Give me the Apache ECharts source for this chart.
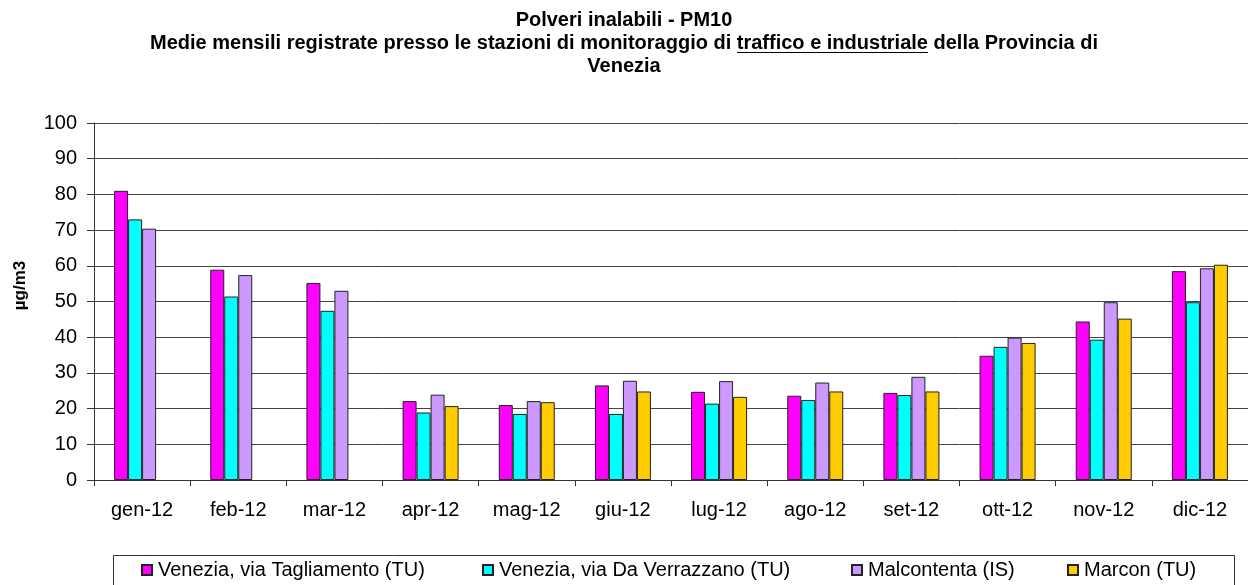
<!DOCTYPE html>
<html>
<head>
<meta charset="utf-8">
<script src="https://cdn.jsdelivr.net/npm/echarts@6/dist/echarts.min.js"></script>
<style>
html,body{margin:0;padding:0;background:#fff;}
#chart{width:1248px;height:585px;}
</style>
</head>
<body>
<div id="chart"></div>
<script>
var categories = ['gen-12','feb-12','mar-12','apr-12','mag-12','giu-12','lug-12','ago-12','set-12','ott-12','nov-12','dic-12'];
var seriesNames = ['Venezia, via Tagliamento (TU)','Venezia, via Da Verrazzano (TU)','Malcontenta (IS)','Marcon (TU)'];
var tagliamento = [81.0, 58.9, 55.2, 22.1, 21.0, 26.5, 24.7, 23.6, 24.4, 34.8, 44.4, 58.5];
var verrazzano  = [73.0, 51.4, 47.4, 18.9, 18.5, 18.5, 21.4, 22.4, 23.8, 37.3, 39.3, 49.8];
var malcontenta = [70.4, 57.4, 53.0, 23.9, 22.1, 27.8, 27.7, 27.3, 28.9, 39.9, 49.8, 59.3];
var marcon      = [null, null, null, 20.7, 21.8, 24.8, 23.3, 24.8, 24.8, 38.4, 45.2, 60.3];
var yTicks = [0,10,20,30,40,50,60,70,80,90,100];

var FONT = "'Liberation Sans', Arial, sans-serif";
var colors = ['#FF00FF','#00FFFF','#CC99FF','#FFCC00'];

// underline image for title rich text
var ul = document.createElement('canvas');
ul.width = 4; ul.height = 23;
var c2 = ul.getContext('2d');
c2.fillStyle = '#000';
c2.fillRect(0, 20, 4, 1);

var chart = echarts.init(document.getElementById('chart'), null, {renderer:'canvas'});

function bar(name, data, color){
  return {
    name: name, type: 'bar', data: data,
    barWidth: 14, barGap: '0%',
    itemStyle: {color: color, borderColor: '#222', borderWidth: 1},
    emphasis: {disabled: true}
  };
}
function leg(name, left){
  return {
    data: [name], left: left, top: 560, padding: 0,
    itemWidth: 10, itemHeight: 10, itemGap: 0,
    icon: 'rect',
    textStyle: {fontFamily: FONT, fontSize: 20, color: '#000', padding: [0,0,0,1]},
    selectedMode: false
  };
}

chart.setOption({
  backgroundColor: '#fff',
  animation: false,
  title: {
    left: 'center', top: 9, padding: [0,0,0,76],
    text: '{b|Polveri inalabili - PM10}\n{b|Medie mensili registrate presso le stazioni di monitoraggio di }{u|traffico e industriale}{b| della Provincia di}\n{b|Venezia}',
    textStyle: {
      fontFamily: FONT, fontSize: 20, fontWeight: 'bold', lineHeight: 23, align: 'center',
      rich: {
        b: {fontFamily: FONT, fontSize: 20, fontWeight: 'bold', color: '#000', lineHeight: 23},
        u: {fontFamily: FONT, fontSize: 20, fontWeight: 'bold', color: '#000', lineHeight: 23, height: 23,
            backgroundColor: {image: ul}}
      }
    }
  },
  legend: [
    leg(seriesNames[0], 141),
    leg(seriesNames[1], 482),
    leg(seriesNames[2], 851),
    leg(seriesNames[3], 1067)
  ],
  graphic: [{
    type: 'rect', silent: true, z: -1,
    shape: {x: 113.5, y: 555.5, width: 1121, height: 40},
    style: {fill: 'none', stroke: '#333', lineWidth: 1}
  }],
  grid: {left: 94, top: 123, width: 1161, height: 357, containLabel: false},
  xAxis: {
    type: 'category', data: categories, boundaryGap: true,
    axisLine: {show: true, lineStyle: {color: '#333', width: 1}},
    axisTick: {show: true, length: 6, lineStyle: {color: '#333'}},
    axisLabel: {fontFamily: FONT, fontSize: 20, color: '#000', margin: 20},
    splitLine: {show: false}
  },
  yAxis: {
    type: 'value', min: yTicks[0], max: yTicks[yTicks.length-1], interval: 10,
    name: 'µg/m3', nameLocation: 'middle', nameGap: 65,
    nameTextStyle: {fontFamily: FONT, fontSize: 17, fontWeight: 'bold', color: '#000', padding: [0,0,0,32]},
    axisLine: {show: true, lineStyle: {color: '#333', width: 1}},
    axisTick: {show: true, length: 7, lineStyle: {color: '#333'}},
    axisLabel: {fontFamily: FONT, fontSize: 20, color: '#000', margin: 17},
    splitLine: {show: true, lineStyle: {color: '#444', width: 1}}
  },
  series: [
    bar(seriesNames[0], tagliamento, colors[0]),
    bar(seriesNames[1], verrazzano, colors[1]),
    bar(seriesNames[2], malcontenta, colors[2]),
    bar(seriesNames[3], marcon, colors[3])
  ]
});
</script>
</body>
</html>
